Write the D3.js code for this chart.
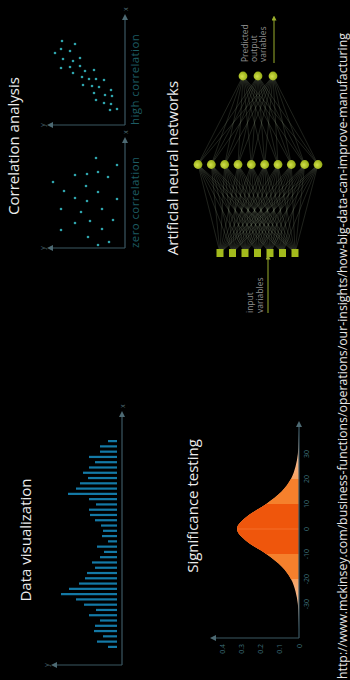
<!DOCTYPE html>
<html>
<head>
<meta charset="utf-8">
<script src="https://cdn.jsdelivr.net/npm/d3@7"></script>
<style>
  html, body { margin: 0; padding: 0; background: #000; }
  svg { display: block; }
</style>
</head>
<body>
<div id="chart"></div>
<script>
// ---- data ----
const barValues = [9, 20, 14, 23, 22, 17, 28, 21, 33, 41, 56, 48, 38, 32, 30, 22, 25, 17, 13, 20,
                   9, 15, 14, 16, 22, 27, 28, 21, 28, 49, 41, 37, 29, 34, 28, 22, 28, 17, 17, 9];

const zeroX = [90, 83, 73, 74, 76, 71, 66, 62, 57, 56, 50, 47, 49, 39, 36, 39, 27, 28, 25, 18, 19, 11, 6, 3];
const zeroY = [29, 8, 50, 38, 27, 17, 72, 39, 61, 27, 50, 38, 8, 64, 44, 23, 35, 12, 50, 64, 23, 37, 16, 27];

const highX = [84, 81, 72, 76, 74, 66, 64, 67, 57, 58, 59, 52, 54, 55, 48, 46, 46, 45, 40, 39, 38, 35, 32, 30, 29, 25, 22, 21, 15, 16];
const highY = [63, 50, 70, 64, 55, 62, 52, 45, 64, 55, 45, 52, 40, 31, 43, 36, 29, 21, 42, 33, 26, 14, 31, 20, 13, 29, 21, 14, 15, 8];

const bellX = [-40, -35, -30, -25, -20, -15, -10, -5, 0, 5, 10, 15, 20, 25, 30, 35, 40];
const bellY = [0, 0.002, 0.006, 0.018, 0.042, 0.09, 0.17, 0.27, 0.322, 0.27, 0.17, 0.09, 0.042, 0.018, 0.006, 0.002, 0];
const xTicks = [-30, -20, -10, 0, 10, 20, 30];
const yTicks = [0, 0.1, 0.2, 0.3, 0.4];

const layerSizes = [7, 10, 3];
const titles = ["Data visualization", "Correlation analysis", "Significance testing", "Artificial neural networks"];
const url = "http://www.mckinsey.com/business-functions/operations/our-insights/how-big-data-can-improve-manufacturing";

// ---- drawing ----
const W = 350, H = 680;
const svg = d3.select("#chart").append("svg")
  .attr("width", W).attr("height", H)
  .style("background", "#000");

const defs = svg.append("defs");
function arrowMarker(id, color) {
  defs.append("marker")
    .attr("id", id)
    .attr("viewBox", "0 0 10 10")
    .attr("refX", 5).attr("refY", 5)
    .attr("markerWidth", 5).attr("markerHeight", 5)
    .attr("orient", "auto")
    .append("path")
    .attr("d", "M0,0L10,5L0,10z")
    .attr("fill", color);
}
arrowMarker("arr-axis", "#4d6a73");
arrowMarker("arr-green", "#9aae2c");

const grad = defs.append("radialGradient").attr("id", "node-grad")
  .attr("cx", "45%").attr("cy", "40%").attr("r", "60%");
grad.append("stop").attr("offset", "0%").attr("stop-color", "#d2e04a");
grad.append("stop").attr("offset", "100%").attr("stop-color", "#93aa14");

// the whole board is landscape, turned a quarter left
const g = svg.append("g").attr("transform", `translate(0,${H}) rotate(-90)`);

const font = "'Open Sans', 'DejaVu Sans', sans-serif";
const axisColor = "#3b5863";

function axes(parent, x0, y0, x1, y1) {
  // x axis to the right, y axis up, both with arrow heads
  parent.append("line").attr("x1", x0).attr("y1", y0).attr("x2", x1).attr("y2", y0)
    .attr("stroke", axisColor).attr("stroke-width", 1.2).attr("marker-end", "url(#arr-axis)");
  parent.append("line").attr("x1", x0).attr("y1", y0).attr("x2", x0).attr("y2", y1)
    .attr("stroke", axisColor).attr("stroke-width", 1.2).attr("marker-end", "url(#arr-axis)");
}
function axisLetters(parent, x0, y0, x1, y1) {
  parent.append("text").attr("x", x1 + 6).attr("y", y0 + 2.5).text("x")
    .attr("font-size", 7).attr("fill", "#4d6a73").attr("font-family", font);
  parent.append("text").attr("x", x0).attr("y", y1 - 5).attr("text-anchor", "middle").text("y")
    .attr("font-size", 7).attr("fill", "#4d6a73").attr("font-family", font);
}
function title(text, x, y) {
  g.append("text").attr("x", x).attr("y", y).attr("text-anchor", "middle")
    .attr("font-family", font).attr("font-size", 15).attr("fill", "#ececec")
    .text(text);
}

// --- Data visualization ---
title(titles[0], 140, 31);
const barX = d3.scaleBand().domain(d3.range(barValues.length)).range([32, 240]).paddingInner(0.58);
const barY = d3.scaleLinear().domain([0, 60]).range([117, 57]);
g.append("g").selectAll("rect").data(barValues).join("rect")
  .attr("x", (d, i) => barX(i))
  .attr("width", barX.bandwidth())
  .attr("y", d => barY(d))
  .attr("height", d => barY(0) - barY(d))
  .attr("fill", "#1479a6");
const dv = g.append("g");
axes(dv, 15, 122, 266, 54);
axisLetters(dv, 15, 122, 266, 54);

// --- Correlation analysis ---
title(titles[1], 534, 19);
function scatter(xs, ys, ox, label) {
  const sx = d3.scaleLinear().domain([0, 110]).range([ox, ox + 110]);
  const sy = d3.scaleLinear().domain([0, 77]).range([125, 48]);
  const p = g.append("g");
  p.selectAll("circle").data(xs).join("circle")
    .attr("cx", d => sx(d))
    .attr("cy", (d, i) => sy(ys[i]))
    .attr("r", 1.3)
    .attr("fill", "#2fa4ad");
  axes(p, ox, 125, ox + 108, 50);
  axisLetters(p, ox, 125, ox + 108, 50);
  p.append("text").attr("x", ox).attr("y", 139)
    .attr("font-family", font).attr("font-size", 11.5).attr("letter-spacing", 0.4)
    .attr("fill", "#1d5b63").text(label);
}
scatter(zeroX, zeroY, 432, "zero correlation");
scatter(highX, highY, 555, "high correlation");

// --- Significance testing ---
title(titles[2], 174, 198);
const bx = d3.scaleLinear().domain([-30, 30]).range([76, 226]);
const by = d3.scaleLinear().domain([0, 0.4]).range([299, 222]);
const bell = bellX.map((x, i) => ({ x, y: bellY[i] }));
const area = d3.area().x(d => bx(d.x)).y0(by(0)).y1(d => by(d.y)).curve(d3.curveMonotoneX);

// pale tails fade towards the ends
const tail = defs.append("linearGradient").attr("id", "tail-grad")
  .attr("gradientUnits", "userSpaceOnUse")
  .attr("x1", bx(-40)).attr("x2", bx(40)).attr("y1", 0).attr("y2", 0);
[[0, "#e6d2d4"], [0.125, "#f3bd98"], [0.25, "#f6a060"], [0.75, "#f6a060"], [0.875, "#f3bd98"], [1, "#e6d2d4"]]
  .forEach(([o, c]) => tail.append("stop").attr("offset", o).attr("stop-color", c));

const bands = [
  { lo: -40, hi: 40, color: "url(#tail-grad)" },
  { lo: -20, hi: 20, color: "#f5802c" },
  { lo: -10, hi: 10, color: "#ef560c" }
];
bands.forEach((b, i) => {
  defs.append("clipPath").attr("id", "band" + i).append("rect")
    .attr("x", bx(b.lo)).attr("width", bx(b.hi) - bx(b.lo))
    .attr("y", 200).attr("height", 110);
  g.append("path").datum(bell).attr("d", area)
    .attr("fill", b.color).attr("clip-path", `url(#band${i})`);
});
g.append("line").attr("x1", bx(0)).attr("x2", bx(0)).attr("y1", by(0)).attr("y2", by(0.322))
  .attr("stroke", "#ff8a4a").attr("stroke-width", 0.8).attr("opacity", 0.6);
const st = g.append("g");
axes(st, 42, 299, 256, 213);
st.selectAll(".xt").data(xTicks).join("text").attr("class", "xt")
  .attr("x", d => bx(d)).attr("y", 309).attr("text-anchor", "middle")
  .attr("font-family", font).attr("font-size", 7).attr("fill", "#3d6d78")
  .text(d => d);
st.selectAll(".yt").data(yTicks).join("text").attr("class", "yt")
  .attr("x", 36).attr("y", d => by(d) + 2.5).attr("text-anchor", "end")
  .attr("font-family", font).attr("font-size", 7).attr("fill", "#3d6d78")
  .text(d => d);

// --- Artificial neural networks ---
title(titles[3], 512, 178);
const layerX = d3.scalePoint().domain(d3.range(layerSizes.length)).range([427, 604]);
const layerSpan = [[220, 295], [198, 318], [243, 273]];
const nodes = layerSizes.map((n, li) => {
  const ys = d3.scalePoint().domain(d3.range(n)).range(layerSpan[li]);
  return d3.range(n).map(k => ({ layer: li, x: layerX(li), y: ys(k) }));
});
const links = [];
for (let li = 0; li < nodes.length - 1; li++) {
  nodes[li].forEach(a => nodes[li + 1].forEach(b => links.push({ a, b })));
}
g.append("g").selectAll("line").data(links).join("line")
  .attr("x1", d => d.a.x).attr("y1", d => d.a.y)
  .attr("x2", d => d.b.x).attr("y2", d => d.b.y)
  .attr("stroke", "#7f8a72").attr("stroke-width", 0.5).attr("opacity", 0.5);
g.append("g").selectAll("rect").data(nodes[0]).join("rect")
  .attr("x", d => d.x - 4).attr("y", d => d.y - 3.5)
  .attr("width", 8).attr("height", 7)
  .attr("fill", "#a3ba1c");
g.append("g").selectAll("circle").data(nodes[1].concat(nodes[2])).join("circle")
  .attr("cx", d => d.x).attr("cy", d => d.y).attr("r", 4.4)
  .attr("fill", "url(#node-grad)");

const lbl = g.append("g").attr("font-family", font).attr("font-size", 8.5).attr("fill", "#8f8f8f");
lbl.append("text").attr("x", 367).attr("y", 253).text("input");
lbl.append("text").attr("x", 367).attr("y", 263).text("variables");
lbl.append("text").attr("x", 618).attr("y", 248).text("Predicted");
lbl.append("text").attr("x", 618).attr("y", 257).text("output");
lbl.append("text").attr("x", 618).attr("y", 266).text("variables");
g.append("line").attr("x1", 367).attr("x2", 423).attr("y1", 268).attr("y2", 268)
  .attr("stroke", "#9aae2c").attr("stroke-width", 1).attr("marker-end", "url(#arr-green)");
g.append("line").attr("x1", 617).attr("x2", 662).attr("y1", 274).attr("y2", 274)
  .attr("stroke", "#9aae2c").attr("stroke-width", 1).attr("marker-end", "url(#arr-green)");

// --- source line ---
g.append("text").attr("x", 1).attr("y", 347)
  .attr("font-family", font).attr("font-size", 12).attr("fill", "#e6e6e6")
  .attr("textLength", 646).attr("lengthAdjust", "spacingAndGlyphs")
  .text(url);
</script>
</body>
</html>
